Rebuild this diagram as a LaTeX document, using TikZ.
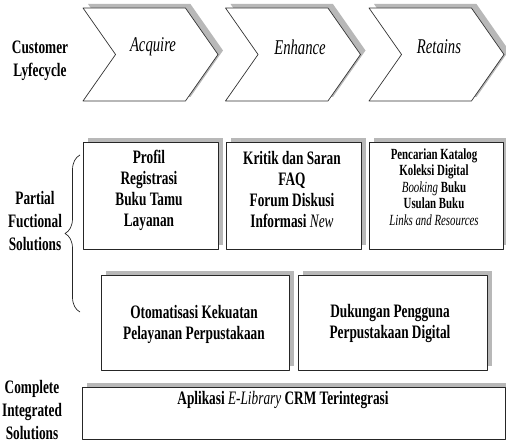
\documentclass[tikz,border=0pt]{standalone}
\usepackage{fontspec}
\setmainfont{Liberation Serif}
\newfontfamily\condserif[FakeStretch=0.70]{Liberation Serif}
\usetikzlibrary{shapes.symbols,shadows,decorations.pathreplacing}
\tikzset{
  boxshadow/.style={drop shadow={shadow xshift=5pt,shadow yshift=4pt,fill=black!28,opacity=1}},
  chev/.style={shape=signal,signal from=west,signal to=east,signal pointer angle=110,
    draw=black!80,fill=white,line width=0.7pt,boxshadow,inner sep=0pt,
    minimum width=135pt,minimum height=93pt},
  solbox/.style={rectangle,draw=black!85,fill=white,line width=0.8pt,boxshadow,inner sep=0pt},
  side/.style={font=\condserif\bfseries\fontsize{19}{23}\selectfont,align=center,inner sep=0pt},
  phase/.style={font=\condserif\itshape\fontsize{21}{22}\selectfont,inner sep=0pt},
  boxtext/.style={font=\condserif\bfseries\fontsize{19}{21}\selectfont,align=center,inner sep=0pt},
  smalltext/.style={font=\condserif\bfseries\fontsize{15.5}{16.5}\selectfont,align=center,inner sep=0pt},
  brace/.style={draw=black!85,line width=0.7pt,decorate,decoration={brace,amplitude=15pt}}
}
\newcommand{\lt}[1]{{\mdseries\itshape #1}}
\begin{document}
\begin{tikzpicture}[x=1pt,y=-1pt,line join=round]
\useasboundingbox (0,0) rectangle (506,443);
% customer lifecycle
\node[side] (cust) at (40,61) {Customer\\Lyfecycle};
\node[chev] (acq) at (150.5,54.5) {};
\node[chev] (enh) at (293,54.5) {};
\node[chev] (ret) at (436.5,54.5) {};
\node[phase] (acqt) at (153,47) {Acquire};
\node[phase] (enht) at (300,47) {Enhance};
\node[phase] (rett) at (439,47) {Retains};
% partial solutions
\node[side] (part) at (35,221) {Partial\\Fuctional\\Solutions};
\node[solbox,minimum width=135pt,minimum height=107pt] (prof) at (150.5,195.5) {};
\node[solbox,minimum width=135pt,minimum height=107pt] (krit) at (293.5,195.5) {};
\node[solbox,minimum width=134pt,minimum height=107pt] (penc) at (436,195.5) {};
\node[boxtext] (proft) at (149,190) {Profil\\Registrasi\\Buku Tamu\\Layanan};
\node[boxtext] (kritt) at (292,190) {Kritik dan Saran\\FAQ\\Forum Diskusi\\Informasi \lt{New}};
\node[smalltext] (penct) at (434,187) {Pencarian Katalog\\Koleksi Digital\\\lt{Booking} Buku\\Usulan Buku\\\lt{Links and Resources}};
\node[solbox,minimum width=188pt,minimum height=95pt] (otom) at (195,322.5) {};
\node[solbox,minimum width=189pt,minimum height=95pt] (duku) at (392.5,322.5) {};
\node[boxtext] (otomt) at (194,324) {Otomatisasi Kekuatan\\Pelayanan Perpustakaan};
\node[boxtext] (dukut) at (390,324) {Dukungan Pengguna\\Perpustakaan Digital};
\coordinate (bt) at (80,155);
\coordinate (bb) at (80,312);
\draw[brace] (bb) -- (bt);
% complete solution
\node[side] (comp) at (32,410) {Complete\\Integrated\\Solutions};
\node[solbox,minimum width=423pt,minimum height=52pt] (apl) at (293.5,413) {};
\node[boxtext] (aplt) at (283,400) {Aplikasi \lt{E-Library} CRM Terintegrasi};
\end{tikzpicture}
\end{document}
